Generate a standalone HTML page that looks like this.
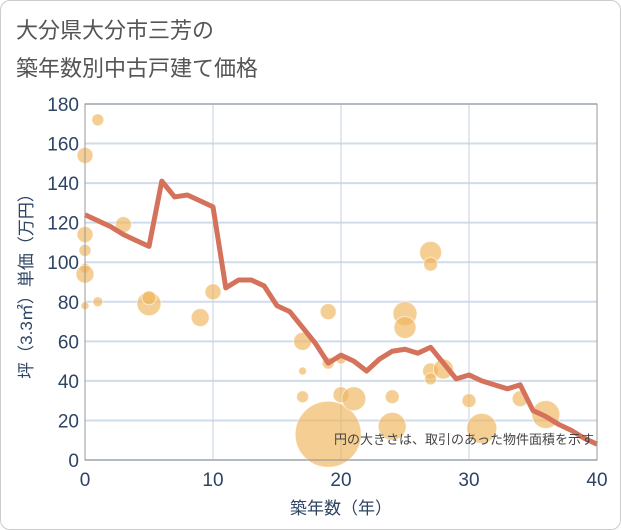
<!DOCTYPE html>
<html><head><meta charset="utf-8"><style>
body{margin:0;background:#fff;font-family:"Liberation Sans","Noto Sans CJK JP",sans-serif}
#card{position:absolute;left:0;top:0;width:619px;height:528px;border:1px solid #ccc;border-radius:10px;background:#fff}
</style></head><body>
<div id="card"></div>
<svg id="c" width="621" height="530" style="position:absolute;left:0;top:0">
<text x="16" y="38" font-size="22" fill="#555" font-family="Liberation Sans,Noto Sans CJK JP,sans-serif">大分県大分市三芳の</text>
<text x="16" y="76" font-size="22" fill="#555" font-family="Liberation Sans,Noto Sans CJK JP,sans-serif">築年数別中古戸建て価格</text>
<g id="grid"></g><g id="bub"></g><g id="ln"></g><g id="ax"></g>
<text x="341" y="514" font-size="17" fill="#2d4463" text-anchor="middle" font-family="Liberation Sans,Noto Sans CJK JP,sans-serif">築年数（年）</text>
<text transform="translate(32,282) rotate(-90)" font-size="17" fill="#2d4463" text-anchor="middle" font-family="Liberation Sans,Noto Sans CJK JP,sans-serif">坪（3.3㎡）単価（万円）</text>
<text x="594" y="444" font-size="13" fill="#444" text-anchor="end" font-family="Liberation Sans,Noto Sans CJK JP,sans-serif">円の大きさは、取引のあった物件面積を示す</text>
</svg>
<script>
const xTicks=[0,10,20,30,40];
const yTicks=[0,20,40,60,80,100,120,140,160,180];
const lineYears=[0,1,2,3,4,5,6,7,8,9,10,11,12,13,14,15,16,17,18,19,20,21,22,23,24,25,26,27,28,29,30,31,32,33,34,35,36,37,38,39,40];
const lineValues=[124,121,118,114,111,108,141,133,134,131,128,87,91,91,88,78,75,67,59,49,53,50,45,51,55,56,54,57,49,41,43,40,38,36,38,25,22,18,15,11,8];
const bubbleYears=[0,1,0,0,0,0,0,1,3,5,5,9,10,17,17,17,19,19,19,20,20,21,24,24,25,25,27,27,27,27,28,30,31,34,36];
const bubbleValues=[154,172,114,106,97,94,78,80,119,79,82,72,85,60,45,32,75,49,13,51,33,31,32,17,74,67,105,99,45,41,46,30,16,31,23];
const bubbleSizes=[8,6,8,6,5,9,4,5,8,12,7,9,8,9,4,6,8,6,33,5,8,12,7,14,12,11,11,7,8,6,10,7,15,8,14];
const X0=85,X1=597,Y0=460,Y1=104;
const sx=v=>X0+(v-0)/40*(X1-X0), sy=v=>Y0-v/180*(Y0-Y1);
const NS='http://www.w3.org/2000/svg';
function mk(t,a,p){const e=document.createElementNS(NS,t);for(const k in a)e.setAttribute(k,a[k]);p.appendChild(e);return e;}
const g=document.getElementById('grid'),b=document.getElementById('bub'),l=document.getElementById('ln'),ax=document.getElementById('ax');
yTicks.forEach(v=>{const e=mk('line',{x1:X0,x2:X1,y1:sy(v),y2:sy(v),stroke:'#cfdcea','stroke-width':2},g);


const t=mk('text',{x:X0-6,y:sy(v)+7,'font-size':19,fill:'#2d4463','text-anchor':'end'},ax);t.textContent=v;

});
xTicks.forEach(v=>{const e=mk('line',{x1:sx(v),x2:sx(v),y1:Y1,y2:Y0,stroke:'#c3d2e2','stroke-width':1},g);


const t=mk('text',{x:sx(v),y:Y0+26,'font-size':19,fill:'#2d4463','text-anchor':'middle'},ax);t.textContent=v;

});
const fr=mk('rect',{x:X0,y:Y1,width:X1-X0,height:Y0-Y1,fill:'none',stroke:'#999','stroke-width':1},ax);


bubbleYears.forEach((yr,i)=>{const c=mk('circle',{cx:sx(yr),cy:sy(bubbleValues[i]),r:bubbleSizes[i],fill:'rgba(240,180,90,0.65)',stroke:'rgba(255,255,255,0.6)','stroke-width':1},b);

});
const pts=lineYears.map((y,i)=>sx(y)+','+sy(lineValues[i])).join(' ');
const pl=mk('polyline',{points:pts,fill:'none',stroke:'#d5725c','stroke-width':5,'stroke-linejoin':'round'},l);


</script>
</body></html>
